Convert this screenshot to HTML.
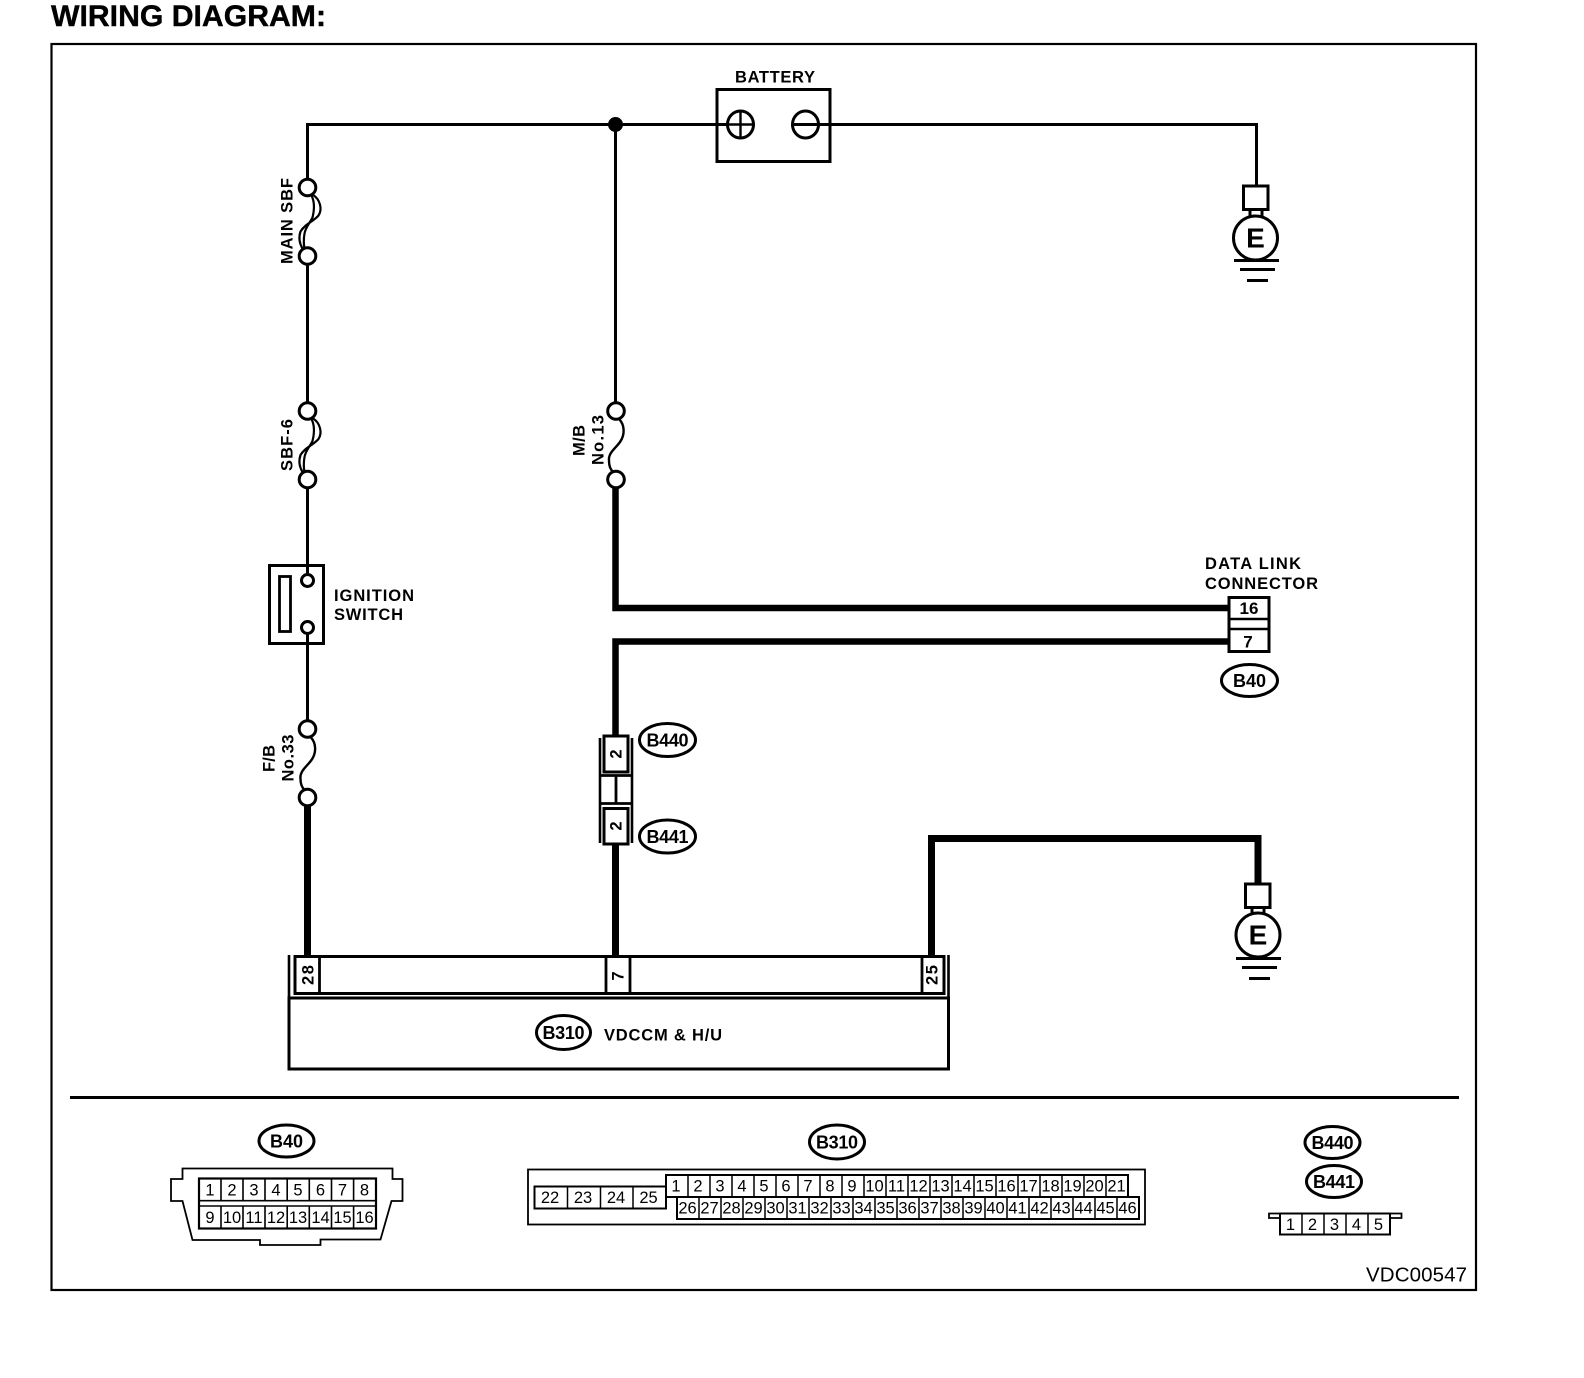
<!DOCTYPE html>
<html><head><meta charset="utf-8"><style>
html,body{margin:0;padding:0;background:#fff}
svg{display:block}
text{font-family:"Liberation Sans",Arial,sans-serif;fill:#000}
.b{font-weight:bold;font-size:16.5px}
.o{font-weight:bold;font-size:18px;text-anchor:middle}
.c{font-size:16.5px;text-anchor:middle}
.r{font-weight:bold;font-size:16.5px;text-anchor:middle}
</style></head><body>
<svg width="1584" height="1378" viewBox="0 0 1584 1378" xmlns="http://www.w3.org/2000/svg">
<rect width="1584" height="1378" fill="#fff"/>
<defs>
<g id="f1"><path d="M3,8 C9,14 9,24 4,31 C-1,38 -8,42 -7,50 C-7,55 -6,58 -3,61" fill="none" stroke="#000" stroke-width="2.4"/><circle cx="0" cy="0" r="8.3" fill="#fff" stroke="#000" stroke-width="3"/><circle cx="0" cy="68.5" r="8.3" fill="#fff" stroke="#000" stroke-width="3"/></g>
<g id="f2"><path d="M5,7 C13,12 15,22 11,28 C6,34 -2,36 -7,44 C-9,50 -8,56 -5,61" fill="none" stroke="#000" stroke-width="2.2"/><path d="M4,8 C7,14 7,22 5,30 C2,36 -2,40 -3,46 C-4,52 -4,56 -3,61" fill="none" stroke="#000" stroke-width="2.2"/><circle cx="0" cy="0" r="8.3" fill="#fff" stroke="#000" stroke-width="3"/><circle cx="0" cy="68.5" r="8.3" fill="#fff" stroke="#000" stroke-width="3"/></g>
</defs>

<text x="51" y="26" font-size="30" font-weight="bold" textLength="275" lengthAdjust="spacingAndGlyphs" stroke="#000" stroke-width="0.4">WIRING DIAGRAM:</text>
<rect x="51.5" y="44" width="1424.5" height="1246" fill="none" stroke="#000" stroke-width="2.2"/>

<!-- thin wires -->
<g fill="none" stroke="#000" stroke-width="3">
<path d="M307.5,187 V124.5 H741"/>
<path d="M307.5,256 V411"/>
<path d="M615.5,124.5 V411"/>
<path d="M307.5,479 V729"/>
</g>
<circle cx="615.5" cy="124.5" r="7.5" fill="#000"/>

<!-- thick wires -->
<g fill="none" stroke="#000" stroke-width="6.5">
<path d="M307.5,800 V956" stroke-width="7"/>
<path d="M615.5,484 V608 H1228"/>
<path d="M1228,641.5 H615.5 V736" />
<path d="M615.5,844 V956" stroke-width="7"/>
<path d="M931.5,956 V838.5 H1258 V884" stroke-width="7"/>
</g>

<!-- fuses -->
<use href="#f2" x="307.5" y="187.5"/>
<use href="#f2" x="307.5" y="411"/>
<use href="#f1" x="616" y="411"/>
<use href="#f1" x="307.5" y="729"/>
<text class="r" transform="translate(292.5,221) rotate(-90)" textLength="86">MAIN SBF</text>
<text class="r" transform="translate(292.5,445) rotate(-90)" textLength="52">SBF-6</text>
<text class="r" transform="translate(584.5,440.5) rotate(-90)" textLength="31">M/B</text>
<text class="r" transform="translate(603.5,440) rotate(-90)" textLength="50">No.13</text>
<text class="r" transform="translate(274.5,758.5) rotate(-90)" textLength="27">F/B</text>
<text class="r" transform="translate(293.5,758) rotate(-90)" textLength="47">No.33</text>

<!-- battery -->
<text class="b" x="735" y="82.5" textLength="80">BATTERY</text>
<rect x="717" y="89.5" width="113" height="72" fill="none" stroke="#000" stroke-width="3"/>
<ellipse cx="740.5" cy="124.5" rx="13" ry="13.5" fill="#fff" stroke="#000" stroke-width="3"/>
<path d="M727.5,124.5 H753.5 M740.5,111 V138" stroke="#000" stroke-width="2.4"/>
<ellipse cx="805.5" cy="124.5" rx="13" ry="13.5" fill="#fff" stroke="#000" stroke-width="3"/>
<path d="M792.5,124.5 H1256.5 V186" fill="none" stroke="#000" stroke-width="3"/>

<!-- ground 1 -->
<g fill="none" stroke="#000">
<rect x="1243.5" y="186" width="24.5" height="23.5" fill="#fff" stroke-width="3"/>
<path d="M1250,209 V218 M1262,209 V218" stroke-width="3"/>
<ellipse cx="1255.5" cy="238" rx="22" ry="22" fill="#fff" stroke-width="3"/>
<path d="M1234,260.5 H1279 M1240,269.5 H1275 M1247,280.5 H1268" stroke-width="3"/>
</g>
<text x="1255.5" y="247.5" font-size="28" font-weight="bold" text-anchor="middle">E</text>

<!-- ground 2 -->
<g fill="none" stroke="#000">
<rect x="1245.5" y="884" width="24.5" height="23.5" fill="#fff" stroke-width="3"/>
<path d="M1252,907 V916 M1264,907 V916" stroke-width="3"/>
<ellipse cx="1258" cy="935" rx="22" ry="22" fill="#fff" stroke-width="3"/>
<path d="M1236,958.5 H1281 M1242,967.5 H1277 M1249,978.5 H1270" stroke-width="3"/>
</g>
<text x="1258" y="944.5" font-size="28" font-weight="bold" text-anchor="middle">E</text>

<!-- ignition switch -->
<rect x="269.5" y="565.5" width="54" height="78" fill="#fff" stroke="#000" stroke-width="3"/>
<rect x="279.5" y="576.5" width="11" height="55" fill="#fff" stroke="#000" stroke-width="2.8"/>
<path d="M307.5,555 V574 M307.5,634 V660" stroke="#000" stroke-width="3"/>
<circle cx="307.5" cy="580.5" r="6" fill="#fff" stroke="#000" stroke-width="3"/>
<circle cx="307.5" cy="627.5" r="6" fill="#fff" stroke="#000" stroke-width="3"/>
<text class="b" x="334" y="601" textLength="80">IGNITION</text>
<text class="b" x="334" y="620" textLength="69">SWITCH</text>

<!-- data link connector -->
<text class="b" x="1205" y="569" textLength="96">DATA LINK</text>
<text class="b" x="1205" y="589" textLength="113">CONNECTOR</text>
<rect x="1229" y="597.5" width="40" height="54" fill="#fff" stroke="#000" stroke-width="3"/>
<path d="M1229,619 H1269 M1229,629 H1269" stroke="#000" stroke-width="2.6"/>
<text class="r" x="1249" y="614" style="font-size:17px">16</text>
<text class="r" x="1248" y="647.5" style="font-size:17px">7</text>
<ellipse cx="1249.5" cy="680.5" rx="28" ry="16" fill="#fff" stroke="#000" stroke-width="3"/>
<text class="o" x="1249.5" y="687">B40</text>

<!-- B440/B441 -->
<g fill="none" stroke="#000">
<rect x="604" y="736" width="24" height="36" fill="#fff" stroke-width="3"/>
<rect x="604" y="808.5" width="24" height="35.5" fill="#fff" stroke-width="3"/>
<path d="M600,738 V843 M632,738 V843" stroke-width="2.6"/>
<path d="M600,775.5 H632 M600,803.5 H632 M616,775.5 V803.5" stroke-width="2.8"/>
</g>
<text class="r" transform="translate(621.5,754) rotate(-90)">2</text>
<text class="r" transform="translate(621.5,826) rotate(-90)">2</text>
<ellipse cx="667.5" cy="740" rx="28" ry="16.5" fill="#fff" stroke="#000" stroke-width="3"/>
<text class="o" x="667.5" y="746.5" textLength="42">B440</text>
<ellipse cx="667.5" cy="836.5" rx="28" ry="16.5" fill="#fff" stroke="#000" stroke-width="3"/>
<text class="o" x="667.5" y="843" textLength="42">B441</text>

<!-- module -->
<g fill="none" stroke="#000">
<rect x="289" y="998" width="659.5" height="71" stroke-width="3"/>
<path d="M289,955 V998 M948.5,955 V998" stroke-width="2.6"/>
<rect x="295" y="956.5" width="649" height="37" stroke-width="3"/>
<path d="M319.5,956.5 V993.5 M606,956.5 V993.5 M630,956.5 V993.5 M922,956.5 V993.5" stroke-width="2.8"/>
</g>
<text class="r" transform="translate(313.5,975) rotate(-90)" textLength="20">28</text>
<text class="r" transform="translate(623.5,976) rotate(-90)">7</text>
<text class="r" transform="translate(937.5,975) rotate(-90)" textLength="20">25</text>
<ellipse cx="563.5" cy="1032.5" rx="27" ry="17" fill="#fff" stroke="#000" stroke-width="3"/>
<text class="o" x="563.5" y="1039" textLength="42">B310</text>
<text class="b" x="604" y="1040.5" textLength="118">VDCCM &amp; H/U</text>

<!-- divider -->
<path d="M70,1097.5 H1459" stroke="#000" stroke-width="3"/>

<!-- B40 connector -->
<ellipse cx="286.5" cy="1141" rx="27.5" ry="16" fill="#fff" stroke="#000" stroke-width="3"/>
<text class="o" x="286.5" y="1147.5">B40</text>
<path d="M182.5,1168.5 H392.5 V1179 H402.5 V1201 H391.5 L380.5,1239.5 H320.5 V1245 H260 V1240 H192.5 L182.5,1201 H171 V1179 H182.5 Z" fill="#fff" stroke="#000" stroke-width="1.8"/>
<rect x="199" y="1178.5" width="177" height="50" fill="#fff" stroke="#000" stroke-width="2.2"/>
<path d="M199,1200.7 H376 M199,1206 H376 M221,1178.5 V1200.7 M221,1206 V1228.5 M243,1178.5 V1200.7 M243,1206 V1228.5 M265,1178.5 V1200.7 M265,1206 V1228.5 M287.2,1178.5 V1200.7 M287.2,1206 V1228.5 M309.3,1178.5 V1200.7 M309.3,1206 V1228.5 M331.5,1178.5 V1200.7 M331.5,1206 V1228.5 M353.6,1178.5 V1200.7 M353.6,1206 V1228.5" stroke="#000" stroke-width="1.6" fill="none"/>
<g>
<text class="c" x="210" y="1195.5">1</text><text class="c" x="232" y="1195.5">2</text><text class="c" x="254" y="1195.5">3</text><text class="c" x="276" y="1195.5">4</text><text class="c" x="298" y="1195.5">5</text><text class="c" x="320.5" y="1195.5">6</text><text class="c" x="342.5" y="1195.5">7</text><text class="c" x="364.5" y="1195.5">8</text>
<text class="c" x="210" y="1223">9</text><text class="c" x="232" y="1223">10</text><text class="c" x="254" y="1223">11</text><text class="c" x="276" y="1223">12</text><text class="c" x="298" y="1223">13</text><text class="c" x="320.5" y="1223">14</text><text class="c" x="342.5" y="1223">15</text><text class="c" x="364.5" y="1223">16</text>
</g>

<!-- B310 connector -->
<ellipse cx="837" cy="1142" rx="27.5" ry="17" fill="#fff" stroke="#000" stroke-width="3"/>
<text class="o" x="837" y="1148.5" textLength="42">B310</text>
<rect x="528" y="1169.5" width="617" height="55" fill="#fff" stroke="#000" stroke-width="1.8"/>
<rect x="534.5" y="1186.5" width="131.5" height="22" fill="#fff" stroke="#000" stroke-width="2"/>
<rect x="666" y="1175" width="462" height="22" fill="#fff" stroke="#000" stroke-width="2"/>
<rect x="677" y="1197" width="462" height="22" fill="#fff" stroke="#000" stroke-width="2"/>
<path d="M567.5,1186.5 V1208.5 M600.5,1186.5 V1208.5 M633,1186.5 V1208.5
M688,1175 V1197 M710,1175 V1197 M732,1175 V1197 M754,1175 V1197 M776,1175 V1197 M798,1175 V1197 M820,1175 V1197 M842,1175 V1197 M864,1175 V1197 M886,1175 V1197 M908,1175 V1197 M930,1175 V1197 M952,1175 V1197 M974,1175 V1197 M996,1175 V1197 M1018,1175 V1197 M1040,1175 V1197 M1062,1175 V1197 M1084,1175 V1197 M1106,1175 V1197
M699,1197 V1219 M721,1197 V1219 M743,1197 V1219 M765,1197 V1219 M787,1197 V1219 M809,1197 V1219 M831,1197 V1219 M853,1197 V1219 M875,1197 V1219 M897,1197 V1219 M919,1197 V1219 M941,1197 V1219 M963,1197 V1219 M985,1197 V1219 M1007,1197 V1219 M1029,1197 V1219 M1051,1197 V1219 M1073,1197 V1219 M1095,1197 V1219 M1117,1197 V1219" stroke="#000" stroke-width="1.5" fill="none"/>
<text class="c" x="550" y="1203">22</text><text class="c" x="583" y="1203">23</text><text class="c" x="616" y="1203">24</text><text class="c" x="648.5" y="1203">25</text>
<text class="c" x="676" y="1191.5">1</text><text class="c" x="698" y="1191.5">2</text><text class="c" x="720" y="1191.5">3</text><text class="c" x="742" y="1191.5">4</text><text class="c" x="764" y="1191.5">5</text><text class="c" x="786" y="1191.5">6</text><text class="c" x="808" y="1191.5">7</text><text class="c" x="830" y="1191.5">8</text><text class="c" x="852" y="1191.5">9</text><text class="c" x="874.5" y="1191.5">10</text><text class="c" x="896.5" y="1191.5">11</text><text class="c" x="918.5" y="1191.5">12</text><text class="c" x="940.5" y="1191.5">13</text><text class="c" x="962.5" y="1191.5">14</text><text class="c" x="984.5" y="1191.5">15</text><text class="c" x="1006.5" y="1191.5">16</text><text class="c" x="1028.5" y="1191.5">17</text><text class="c" x="1050.5" y="1191.5">18</text><text class="c" x="1072.5" y="1191.5">19</text><text class="c" x="1094.5" y="1191.5">20</text><text class="c" x="1116.5" y="1191.5">21</text>
<text class="c" x="687.5" y="1213.5">26</text><text class="c" x="709.5" y="1213.5">27</text><text class="c" x="731.5" y="1213.5">28</text><text class="c" x="753.5" y="1213.5">29</text><text class="c" x="775.5" y="1213.5">30</text><text class="c" x="797.5" y="1213.5">31</text><text class="c" x="819.5" y="1213.5">32</text><text class="c" x="841.5" y="1213.5">33</text><text class="c" x="863.5" y="1213.5">34</text><text class="c" x="885.5" y="1213.5">35</text><text class="c" x="907.5" y="1213.5">36</text><text class="c" x="929.5" y="1213.5">37</text><text class="c" x="951.5" y="1213.5">38</text><text class="c" x="973.5" y="1213.5">39</text><text class="c" x="995.5" y="1213.5">40</text><text class="c" x="1017.5" y="1213.5">41</text><text class="c" x="1039.5" y="1213.5">42</text><text class="c" x="1061.5" y="1213.5">43</text><text class="c" x="1083.5" y="1213.5">44</text><text class="c" x="1105.5" y="1213.5">45</text><text class="c" x="1127.5" y="1213.5">46</text>

<!-- B440/B441 legend -->
<ellipse cx="1332.5" cy="1142.5" rx="27.5" ry="16" fill="#fff" stroke="#000" stroke-width="3"/>
<text class="o" x="1332.5" y="1149" textLength="42">B440</text>
<ellipse cx="1334" cy="1181.5" rx="27.5" ry="16" fill="#fff" stroke="#000" stroke-width="3"/>
<text class="o" x="1334" y="1188" textLength="42">B441</text>
<path d="M1280,1218 H1269 V1213.5 H1280 M1390,1218 H1401.5 V1213.5 H1390" fill="none" stroke="#000" stroke-width="1.8"/>
<rect x="1280" y="1213.5" width="110" height="21" fill="#fff" stroke="#000" stroke-width="2"/>
<path d="M1302,1213.5 V1234.5 M1324,1213.5 V1234.5 M1346,1213.5 V1234.5 M1368,1213.5 V1234.5" stroke="#000" stroke-width="1.5"/>
<text class="c" x="1290.5" y="1230">1</text><text class="c" x="1312.5" y="1230">2</text><text class="c" x="1334.5" y="1230">3</text><text class="c" x="1356.5" y="1230">4</text><text class="c" x="1378.5" y="1230">5</text>

<text x="1366" y="1281.5" font-size="20.5" textLength="101">VDC00547</text>
</svg>
</body></html>
